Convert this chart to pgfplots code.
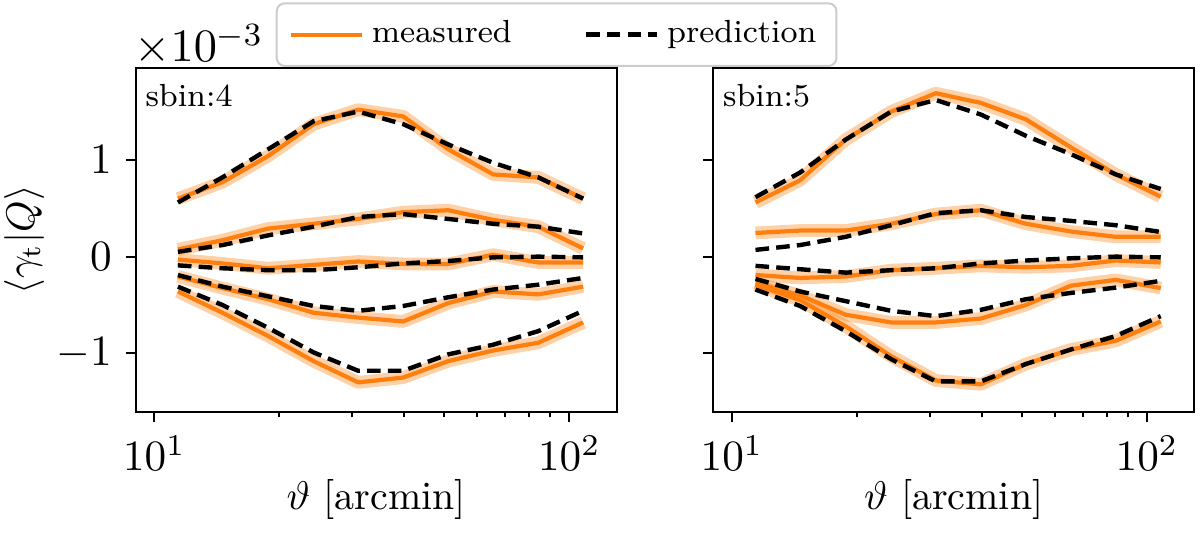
\documentclass[border=0pt]{standalone}
\usepackage{fix-cm}
\usepackage{pgfplots}
\usepackage{pgfplotstable}
\pgfplotsset{compat=1.18}
\definecolor{tabor}{RGB}{255,127,14}

\pgfplotstableread{
x     m1    p1    m2     p2    m3     p3     m4     p4    m5    p5
11.4  0.60  0.56  0.075  0.05  -0.03  -0.09  -0.205 -0.19 -0.36 -0.31
14.6  0.77  0.82  0.17   0.12  -0.07  -0.12  -0.325 -0.31 -0.58 -0.50
18.8  1.04  1.11  0.29   0.22  -0.12  -0.14  -0.44  -0.41 -0.82 -0.735
24.2  1.37  1.40  0.34   0.31  -0.085 -0.14  -0.58  -0.51 -1.08 -0.99
31.0  1.52  1.50  0.39   0.41  -0.05  -0.11  -0.63  -0.56 -1.30 -1.18
39.8  1.45  1.37  0.46   0.44  -0.075 -0.07  -0.67  -0.51 -1.25 -1.18
51.1  1.11  1.16  0.48   0.39  -0.075 -0.045 -0.48  -0.42 -1.08 -1.01
65.6  0.85  0.97  0.38   0.34  0.02   -0.007 -0.36  -0.34 -0.97 -0.91
84.2  0.82  0.82  0.31   0.31  -0.06  0.0    -0.39  -0.29 -0.89 -0.77
108.0 0.60  0.60  0.085  0.24  -0.06  -0.007 -0.31  -0.22 -0.68 -0.56
}\leftdata

\pgfplotstableread{
x     m1    p1    m2     p2    m3     p3     m4     p4    m5    p5
11.4  0.56  0.615 0.245  0.07  -0.19  -0.095 -0.27  -0.23 -0.29 -0.34
14.6  0.79  0.87  0.27   0.12  -0.22  -0.13  -0.40  -0.36 -0.45 -0.51
18.8  1.21  1.21  0.27   0.205 -0.205 -0.165 -0.60  -0.46 -0.72 -0.77
24.2  1.50  1.50  0.34   0.325 -0.14  -0.14  -0.68  -0.56 -1.03 -1.06
31.0  1.69  1.62  0.44   0.45  -0.12  -0.12  -0.68  -0.615 -1.28 -1.29
39.8  1.59  1.47  0.48   0.48  -0.095 -0.07  -0.64  -0.55 -1.32 -1.29
51.1  1.42  1.25  0.34   0.41  -0.11  -0.04  -0.50  -0.44 -1.11 -1.11
65.6  1.13  1.06  0.26   0.37  -0.095 -0.017 -0.30  -0.375 -0.96 -0.96
84.2  0.85  0.85  0.205  0.325 -0.04  0.0    -0.24  -0.32 -0.87 -0.82
108.0 0.62  0.70  0.205  0.255 -0.06  -0.007 -0.325 -0.25 -0.67 -0.615
}\rightdata

\tikzset{
  myband/.style={tabor, opacity=0.36, line width=3.2pt, line join=round},
  mymeas/.style={tabor, line width=1.05pt, line join=round},
  mypred/.style={black, line width=1.1pt, dash pattern=on 3.4pt off 1.8pt},
}

\begin{document}
\begin{tikzpicture}
\path[use as bounding box] (-33.93pt,-30.33pt) rectangle (266.08pt,102.93pt);

\begin{axis}[
  name=L, at={(0pt,0pt)}, anchor=south west,
  scale only axis, width=120.25pt, height=85.93pt,
  xmode=log, xmin=9.02, xmax=130.1, ymin=-1.603, ymax=1.951,
  ytick={-1,0,1}, xtick={10,100},
  minor xtick={9,20,30,40,50,60,70,80,90},
  tick align=outside, tick pos=left,
  major tick length=2.5pt, minor tick length=1.4pt,
  axis line style={line width=0.5pt},
  every tick/.style={black, line width=0.5pt},
  ticklabel style={font=\fontsize{10.8}{12}\selectfont},
  label style={font=\fontsize{9}{11}\selectfont},
  xlabel={$\vartheta$ [arcmin]},
  ylabel={$\langle \gamma_{\mathrm{t}} | Q \rangle$},
  every axis x label/.style={at={(axis description cs:0.5,-0.256)}, anchor=center},
  every axis y label/.style={at={(axis description cs:-0.232,0.5)}, anchor=center, rotate=90},
  legend columns=2,
  legend cell align=left,
  legend image code/.code={\draw[#1] (0pt,0pt) -- (17.75pt,0pt);},
  legend style={at={(rel axis cs:0.875,1.097)}, anchor=center,
    font=\fontsize{8}{9}\selectfont, draw=gray!40, line width=0.5pt,
    rounded corners=2pt, inner xsep=3pt, inner ysep=2.3pt,
    /tikz/column 2/.style={column sep=16pt}},
]
\addplot[myband, forget plot] table[x=x, y=m1] {\leftdata};
\addplot[myband, forget plot] table[x=x, y=m2] {\leftdata};
\addplot[myband, forget plot] table[x=x, y=m3] {\leftdata};
\addplot[myband, forget plot] table[x=x, y=m4] {\leftdata};
\addplot[myband, forget plot] table[x=x, y=m5] {\leftdata};
\addplot[mymeas, forget plot] table[x=x, y=m1] {\leftdata};
\addplot[mymeas, forget plot] table[x=x, y=m2] {\leftdata};
\addplot[mymeas, forget plot] table[x=x, y=m3] {\leftdata};
\addplot[mymeas, forget plot] table[x=x, y=m4] {\leftdata};
\addplot[mymeas, forget plot] table[x=x, y=m5] {\leftdata};
\addplot[mypred, forget plot] table[x=x, y=p1] {\leftdata};
\addplot[mypred, forget plot] table[x=x, y=p2] {\leftdata};
\addplot[mypred, forget plot] table[x=x, y=p3] {\leftdata};
\addplot[mypred, forget plot] table[x=x, y=p4] {\leftdata};
\addplot[mypred, forget plot] table[x=x, y=p5] {\leftdata};
\addlegendimage{mymeas}
\addlegendentry{measured}
\addlegendimage{mypred}
\addlegendentry{prediction}
\end{axis}

\begin{axis}[
  name=R, at={(144.4pt,0pt)}, anchor=south west,
  scale only axis, width=120.25pt, height=85.93pt,
  xmode=log, xmin=9.02, xmax=130.1, ymin=-1.603, ymax=1.951,
  ytick={-1,0,1}, xtick={10,100}, yticklabels={},
  minor xtick={9,20,30,40,50,60,70,80,90},
  tick align=outside, tick pos=left,
  major tick length=2.5pt, minor tick length=1.4pt,
  axis line style={line width=0.5pt},
  every tick/.style={black, line width=0.5pt},
  ticklabel style={font=\fontsize{10.8}{12}\selectfont},
  label style={font=\fontsize{9}{11}\selectfont},
  xlabel={$\vartheta$ [arcmin]},
  every axis x label/.style={at={(axis description cs:0.5,-0.256)}, anchor=center},
]
\addplot[myband] table[x=x, y=m1] {\rightdata};
\addplot[myband] table[x=x, y=m2] {\rightdata};
\addplot[myband] table[x=x, y=m3] {\rightdata};
\addplot[myband] table[x=x, y=m4] {\rightdata};
\addplot[myband] table[x=x, y=m5] {\rightdata};
\addplot[mymeas] table[x=x, y=m1] {\rightdata};
\addplot[mymeas] table[x=x, y=m2] {\rightdata};
\addplot[mymeas] table[x=x, y=m3] {\rightdata};
\addplot[mymeas] table[x=x, y=m4] {\rightdata};
\addplot[mymeas] table[x=x, y=m5] {\rightdata};
\addplot[mypred] table[x=x, y=p1] {\rightdata};
\addplot[mypred] table[x=x, y=p2] {\rightdata};
\addplot[mypred] table[x=x, y=p3] {\rightdata};
\addplot[mypred] table[x=x, y=p4] {\rightdata};
\addplot[mypred] table[x=x, y=p5] {\rightdata};
\end{axis}

\node[anchor=base west, inner sep=0pt, font=\fontsize{8}{9}\selectfont]
  at ([xshift=2.25pt, yshift=-9.75pt]L.north west) {sbin:4};
\node[anchor=base west, inner sep=0pt, font=\fontsize{8}{9}\selectfont]
  at ([xshift=2.25pt, yshift=-9.75pt]R.north west) {sbin:5};
\node[anchor=base west, inner sep=0pt, font=\fontsize{11.6}{13}\selectfont]
  at ([xshift=-0.5pt, yshift=1.5pt]L.north west) {$\times10^{-3}$};
\end{tikzpicture}
\end{document}
